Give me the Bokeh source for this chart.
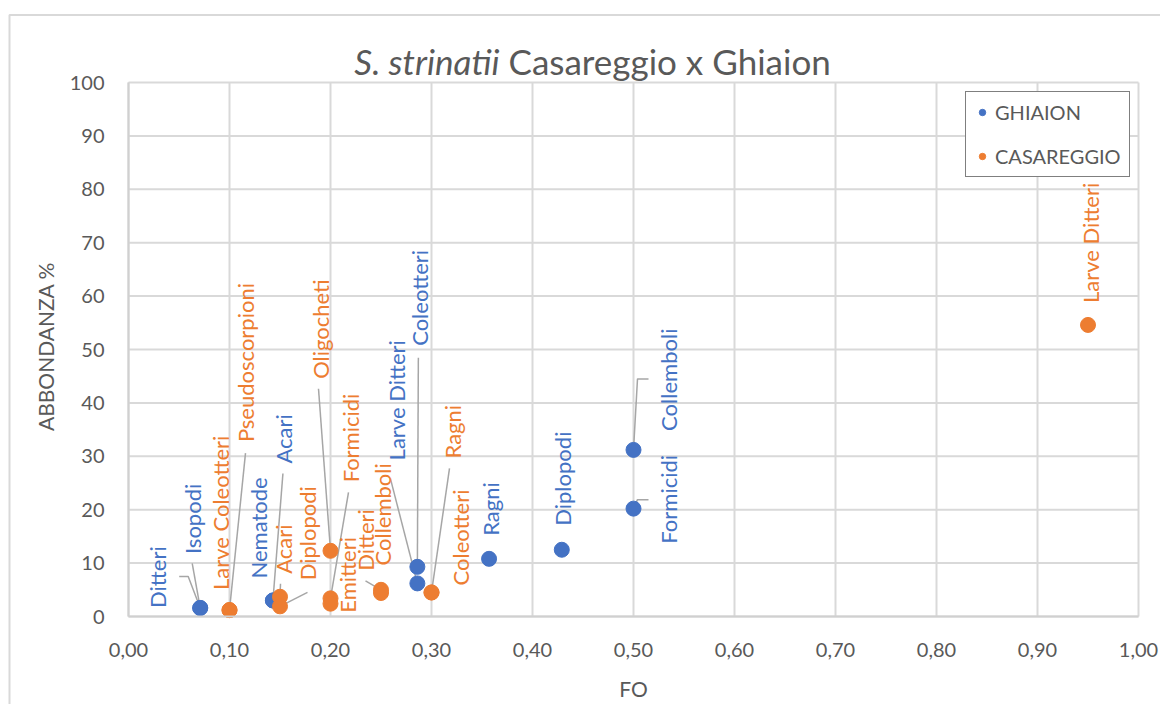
import math
from bokeh.plotting import figure
from bokeh.models import Range1d, FixedTicker, Legend, LegendItem, ColumnDataSource
from bokeh.core.properties import value
from bokeh.embed import file_html
from bokeh.resources import INLINE

# ---------------- data ----------------
ghi_names = ["Ditteri", "Isopodi", "Nematode", "Acari", "Larve Ditteri", "Coleotteri",
             "Ragni", "Diplopodi", "Formicidi", "Collemboli"]
ghi_fo = [0.071, 0.071, 0.143, 0.143, 0.286, 0.286, 0.357, 0.429, 0.500, 0.500]
ghi_ab = [1.6, 1.6, 3.0, 3.0, 6.2, 9.3, 10.8, 12.5, 20.2, 31.2]

cas_names = ["Larve Coleotteri", "Pseudoscorpioni", "Acari", "Diplopodi", "Oligocheti",
             "Formicidi", "Emitteri", "Ditteri", "Collemboli", "Ragni", "Coleotteri",
             "Larve Ditteri"]
cas_fo = [0.10, 0.10, 0.15, 0.15, 0.20, 0.20, 0.20, 0.25, 0.25, 0.30, 0.30, 0.95]
cas_ab = [1.2, 1.2, 3.7, 1.9, 12.3, 3.4, 2.4, 5.0, 4.4, 4.5, 4.5, 54.6]

x_ticks = [0.0, 0.1, 0.2, 0.3, 0.4, 0.5, 0.6, 0.7, 0.8, 0.9, 1.0]
x_tick_labels = ["0,00", "0,10", "0,20", "0,30", "0,40", "0,50", "0,60", "0,70", "0,80", "0,90", "1,00"]
y_ticks = [0, 10, 20, 30, 40, 50, 60, 70, 80, 90, 100]

series_names = ["GHIAION", "CASAREGGIO"]
title_italic = "S. strinatii"
title_rest = "Casareggio x Ghiaion"
x_title = "FO"
y_title = "ABBONDANZA %"

# ---------------- layout / style ----------------
BLUE = "#4472C4"
ORANGE = "#ED7D31"
GREY_TXT = "#595959"
GRID = "#d9d9d9"
FONT = "Lato"
W, H = 1160, 704
PLOT_L, PLOT_R, PLOT_T, PLOT_B = 128, 1138, 82, 616   # value area in page px
PXX = (PLOT_R - PLOT_L) / (x_ticks[-1] - x_ticks[0])
PXY = (PLOT_B - PLOT_T) / (y_ticks[-1] - y_ticks[0])


def px_x(px):
    return x_ticks[0] + (px - PLOT_L) / PXX


def px_y(py):
    return y_ticks[0] + (PLOT_B - py) / PXY


# label placement (pixel offsets from the point: dx right, dy up) and leader elbows
ghi_lab = [(-43, 0), (-8, 54), (-14, 22), (11, 137), (-21, 123), (2, 221),
           (1, 23), (1, 24), (35, -35), (35, 19)]
ghi_lead = [[(-21, 31.5), (-12, 31.5)], [(-8, 44.5)], [], [(10, 127)], [(-27, 105)],
            [(1, 209)], [], [], [(15, 9), (4, 9)], [(15, 71), (4, 71)]]
cas_lab = [(-9, 20), (16, 168), (3.5, 23), (27.5, 26), (-10, 172), (20, 116), (17, -9),
           (-15.5, 19), (1.5, 27.5), (21, 134), (29, 7), (2.5, 22)]
cas_lead = [[], [(16, 157)], [(0.5, 13)], [(27.5, 14)], [(-12, 162)], [(18, 106)], [],
            [(-15.5, 9)], [], [(18, 124)], [], []]

# the frame covers the whole canvas; axes are pinned at the origin
p = figure(width=W, height=H, output_backend="svg", toolbar_location=None,
           x_range=Range1d(px_x(0), px_x(W)), y_range=Range1d(px_y(H), px_y(0)),
           min_border_left=0, min_border_right=0, min_border_top=0, min_border_bottom=0)
p.title.visible = False
p.outline_line_color = None
p.background_fill_color = "white"
p.border_fill_color = "white"
p.xgrid.visible = False
p.ygrid.visible = False

for ax in (p.xaxis[0], p.yaxis[0]):
    ax.fixed_location = 0
    ax.major_tick_line_color = None
    ax.minor_tick_line_color = None
    ax.axis_line_color = "#d0d0d0"
    ax.axis_line_width = 2
    ax.major_label_text_font = FONT
    ax.major_label_text_font_size = "20px"
    ax.major_label_text_color = GREY_TXT

p.xaxis[0].ticker = FixedTicker(ticks=x_ticks)
p.xaxis[0].bounds = (x_ticks[0], x_ticks[-1])
p.xaxis[0].major_label_overrides = {t: l for t, l in zip(x_ticks, x_tick_labels)}
p.xaxis[0].major_label_standoff = 20
p.yaxis[0].ticker = FixedTicker(ticks=y_ticks)
p.yaxis[0].bounds = (y_ticks[0], y_ticks[-1])
p.yaxis[0].major_label_standoff = 18

# chart-area border: left and top edges only (light grey, as in the spreadsheet export)
p.line(x=[px_x(9), px_x(9), px_x(W + 40)], y=[px_y(H + 40), px_y(14.5), px_y(14.5)],
       line_color=GRID, line_width=2, level="underlay")

# grid lines limited to the value area
n = len(x_ticks)
p.segment(x0=x_ticks, y0=[y_ticks[0]] * n, x1=x_ticks, y1=[y_ticks[-1]] * n,
          line_color=GRID, line_width=2, level="underlay")
m = len(y_ticks)
p.segment(x0=[x_ticks[0]] * m, y0=y_ticks, x1=[x_ticks[-1]] * m, y1=y_ticks,
          line_color=GRID, line_width=2, level="underlay")


def leaders(fo, ab, leads):
    xs, ys = [], []
    for x, y, pts in zip(fo, ab, leads):
        if not pts:
            continue
        xs.append([x + dx / PXX for dx, dy in pts] + [x])
        ys.append([y + dy / PXY for dx, dy in pts] + [y])
    return xs, ys


for fo, ab, leads in ((ghi_fo, ghi_ab, ghi_lead), (cas_fo, cas_ab, cas_lead)):
    xs, ys = leaders(fo, ab, leads)
    p.multi_line(xs, ys, line_color="#a6a6a6", line_width=1.5)

r_ghi = p.scatter(ghi_fo, ghi_ab, size=15, fill_color=BLUE, line_color=BLUE, marker="circle")
r_cas = p.scatter(cas_fo, cas_ab, size=15, fill_color=ORANGE, line_color=ORANGE, marker="circle")

for names, fo, ab, lab, col in ((ghi_names, ghi_fo, ghi_ab, ghi_lab, BLUE),
                                (cas_names, cas_fo, cas_ab, cas_lab, ORANGE)):
    src = ColumnDataSource(dict(x=fo, y=ab, t=names,
                                xo=[d[0] for d in lab], yo=[-d[1] for d in lab]))
    p.text("x", "y", text="t", source=src, x_offset="xo", y_offset="yo",
           angle=math.pi / 2, text_align="left", text_baseline="middle",
           text_font=value(FONT), text_font_size="22px", text_color=col)

legend = Legend(items=[LegendItem(label=series_names[0], renderers=[r_ghi]),
                       LegendItem(label=series_names[1], renderers=[r_cas])],
                location=(965, H - 177), orientation="vertical",
                border_line_color="black", border_line_width=1.5,
                background_fill_color="white", background_fill_alpha=1,
                padding=8, spacing=20, margin=0,
                glyph_width=16, glyph_height=24, label_height=24, label_standoff=5,
                label_text_font=FONT, label_text_font_size="20px", label_text_color=GREY_TXT)
p.add_layout(legend)

# title (mixed italic / regular)
p.text(x=[px_x(499)], y=[px_y(60)], text=[title_italic], text_align="right",
       text_baseline="middle", text_font=value(FONT), text_font_size="35px",
       text_font_style="italic", text_color=GREY_TXT)
p.text(x=[px_x(508)], y=[px_y(60)], text=[title_rest], text_align="left",
       text_baseline="middle", text_font=value(FONT), text_font_size="35px",
       text_color=GREY_TXT)

# axis titles
p.text(x=[px_x((PLOT_L + PLOT_R) / 2)], y=[px_y(688)], text=[x_title], text_align="center",
       text_baseline="middle", text_font=value(FONT), text_font_size="21px", text_color=GREY_TXT)
p.text(x=[px_x(45)], y=[px_y(346)], text=[y_title], text_align="center", angle=math.pi / 2,
       text_baseline="middle", text_font=value(FONT), text_font_size="21px", text_color=GREY_TXT)

open("out.html", "w").write(file_html(p, INLINE))
